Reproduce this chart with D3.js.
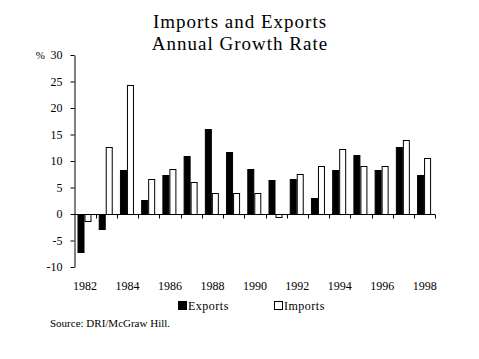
<!DOCTYPE html>
<html lang="en">
<head>
<meta charset="UTF-8">
<title>Imports and Exports - Annual Growth Rate</title>
<script src="https://cdn.jsdelivr.net/npm/d3@7"></script>
<style>
  body { margin: 0; background: #fff; }
  svg text { font-family: "Liberation Serif", "Times New Roman", serif; fill: #000; }
</style>
</head>
<body>
<div id="chart"></div>
<script>
// values (percent)
const years   = d3.range(1982, 1999);
const exports = [-7.2, -2.8, 8.3, 2.6, 7.4, 10.9, 16.0, 11.7, 8.5, 6.4, 6.6, 3.0, 8.3, 11.1, 8.3, 12.6, 7.4];
const imports = [-1.4, 12.6, 24.3, 6.6, 8.5, 6.0, 3.9, 3.9, 3.9, -0.6, 7.5, 9.0, 12.3, 9.0, 9.0, 14.0, 10.6];
const series  = ["Exports", "Imports"];
const yTicks  = [-10, -5, 0, 5, 10, 15, 20, 25, 30];
const xLabels = [1982, 1984, 1986, 1988, 1990, 1992, 1994, 1996, 1998];
const titleLines = ["Imports and Exports", "Annual Growth Rate"];
const source = "Source:  DRI/McGraw Hill.";

const width = 479, height = 359;
const serif = '"Liberation Serif", "Times New Roman", serif';
const svg = d3.select("#chart").append("svg")
    .attr("width", width)
    .attr("height", height);

const x0 = d3.scaleBand().domain(years).range([74.5, 435.3]).padding(0);
const x1 = d3.scaleBand().domain(series).range([3, 17]).padding(0);
const y = d3.scaleLinear().domain([-10, 30]).range([267, 55]);
const fill = { Exports: "#000", Imports: "#fff" };

// title
svg.selectAll("text.title")
    .data(titleLines)
    .join("text")
    .attr("class", "title")
    .attr("x", 240)
    .attr("y", (d, i) => 27.5 + i * 22)
    .attr("text-anchor", "middle")
    .style("font-size", "19px")
    .style("letter-spacing", "1px")
    .text(d => d);

// bars
const rows = years.map((yr, i) => ({ year: yr, Exports: exports[i], Imports: imports[i] }));
svg.append("g")
    .selectAll("g")
    .data(rows)
    .join("g")
    .attr("transform", d => `translate(${x0(d.year)},0)`)
    .selectAll("rect")
    .data(d => series.map(k => ({ key: k, value: d[k] })))
    .join("rect")
    .attr("x", d => x1(d.key) + 0.5)
    .attr("y", d => Math.round(y(Math.max(0, d.value))) + 0.5)
    .attr("width", x1.bandwidth() - 1)
    .attr("height", d => Math.max(1, Math.abs(Math.round(y(d.value)) - Math.round(y(0)))))
    .attr("fill", d => fill[d.key])
    .attr("stroke", "#000")
    .attr("stroke-width", 1);

// y axis
const yAxis = svg.append("g")
    .attr("transform", "translate(74.5,0)")
    .call(d3.axisLeft(y).tickValues(yTicks).tickFormat(d => String(d))
        .tickSize(4).tickPadding(8).tickSizeOuter(0));
yAxis.attr("font-family", serif);
yAxis.select(".domain").attr("stroke", "#000");
yAxis.selectAll("text")
    .style("font-family", serif)
    .style("font-size", "12px");
svg.append("text")
    .attr("x", 45)
    .attr("y", y(30) + 4)
    .attr("text-anchor", "end")
    .style("font-size", "11px")
    .text("%");

// x axis at zero, ticks on category boundaries
const xAxis = svg.append("g").attr("transform", `translate(0,${Math.round(y(0)) + 0.5})`);
xAxis.append("line")
    .attr("x1", x0.range()[0]).attr("x2", x0.range()[1])
    .attr("stroke", "#000");
xAxis.selectAll("line.tick")
    .data(years)
    .join("line")
    .attr("class", "tick")
    .attr("x1", d => Math.round(x0(d) + x0.bandwidth()) + 0.5)
    .attr("x2", d => Math.round(x0(d) + x0.bandwidth()) + 0.5)
    .attr("y1", 0).attr("y2", 4)
    .attr("stroke", "#000");

svg.selectAll("text.xlab")
    .data(xLabels)
    .join("text")
    .attr("class", "xlab")
    .attr("x", d => x0(d) + x0.bandwidth() / 2)
    .attr("y", 290)
    .attr("text-anchor", "middle")
    .style("font-size", "12px")
    .text(d => d);

// legend
const legend = svg.selectAll("g.legend")
    .data(series)
    .join("g")
    .attr("class", "legend")
    .attr("transform", (d, i) => `translate(${178 + i * 96},0)`);
legend.append("rect")
    .attr("x", 0.5).attr("y", 301.5)
    .attr("width", 8).attr("height", 8)
    .attr("fill", d => fill[d])
    .attr("stroke", "#000");
legend.append("text")
    .attr("x", 10)
    .attr("y", 310)
    .style("font-size", "12px")
    .style("letter-spacing", "0.5px")
    .text(d => d);

// source note
svg.append("text")
    .attr("x", 50)
    .attr("y", 327)
    .style("font-size", "11px")
    .text(source);
</script>
</body>
</html>
